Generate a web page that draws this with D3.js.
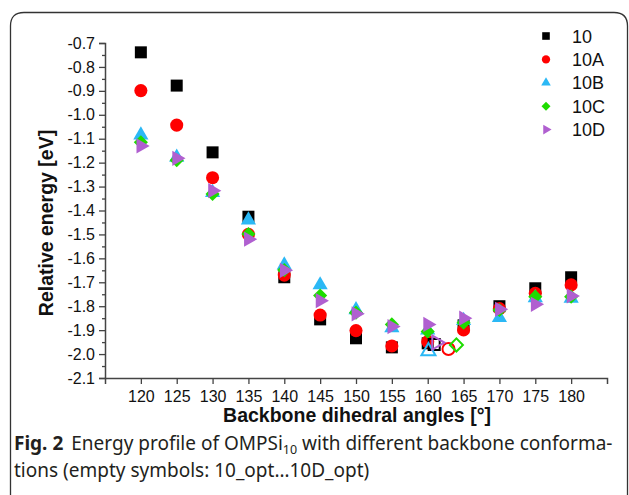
<!DOCTYPE html>
<html>
<head>
<meta charset="utf-8">
<script src="https://cdn.jsdelivr.net/npm/d3@7"></script>
<style>
  body { margin: 0; background: #fff; }
  svg { display: block; }
</style>
</head>
<body>
<svg id="chart" width="629" height="495"></svg>
<script>
// dihedral angles (deg) and relative energies (eV) per conformer
const angles = [120, 125, 130, 135, 140, 145, 150, 155, 160, 165, 170, 175, 180];
const e10  = [-0.739, -0.878, -1.157, -1.426, -1.679, -1.855, -1.934, -1.972, -1.955, -1.88, -1.80, -1.725, -1.679];
const e10A = [-0.899, -1.043, -1.263, -1.50, -1.67, -1.837, -1.902, -1.966, -1.948, -1.899, -1.81, -1.746, -1.711];
const e10B = [-1.085, -1.178, -1.325, -1.44, -1.628, -1.711, -1.815, -1.89, -1.90, -1.86, -1.848, -1.765, -1.767];
const e10C = [-1.115, -1.19, -1.331, -1.498, -1.649, -1.755, -1.827, -1.876, -1.906, -1.869, -1.816, -1.76, -1.76];
const e10D = [-1.13, -1.182, -1.317, -1.52, -1.65, -1.777, -1.832, -1.885, -1.876, -1.85, -1.813, -1.792, -1.757];

// optimised structures (empty symbols)
const optAngles = [160.9, 162.9, 160.1, 164.0, 161.2];
const optEnergy = [-1.96, -1.979, -1.988, -1.962, -1.952];

const seriesNames = ["10", "10A", "10B", "10C", "10D"];
const xTicks = [120, 125, 130, 135, 140, 145, 150, 155, 160, 165, 170, 175, 180];
const yTicks = [-2.1, -2.0, -1.9, -1.8, -1.7, -1.6, -1.5, -1.4, -1.3, -1.2, -1.1, -1.0, -0.9, -0.8, -0.7];

const colors = ["#000000", "#ff0000", "#2bb8f5", "#1edc00", "#b05fd0"];
const shapes = [
  { type: d3.symbolSquare, size: 144, rot: 0 },
  { type: d3.symbolCircle, size: 135, rot: 0 },
  { type: d3.symbolTriangle, size: 100, rot: 0 },
  { type: d3.symbolSquare, size: 100, rot: 45 },
  { type: d3.symbolTriangle, size: 100, rot: 90 },
];

const svg = d3.select("#chart");
const x = d3.scaleLinear().domain([115, 185]).range([105, 607]);
const y = d3.scaleLinear().domain([-2.1, -0.7]).range([378, 43]);

// panel frame (bottom runs off the page)
svg.append("path")
  .attr("d", "M10.5,520 V26 Q10.5,12.5 24,12.5 H614 Q627.5,12.5 627.5,26 V520")
  .attr("fill", "none").attr("stroke", "#333").attr("stroke-width", 1.3);

const fmt = (d) => d.toFixed(1).replace("\u2212", "-");
const axisColor = "#444";

// y axis: major + minor ticks
svg.append("g").attr("transform", "translate(105,0)")
  .call(d3.axisLeft(y).tickValues(yTicks).tickSize(6).tickPadding(4).tickFormat(fmt));
svg.append("g").attr("transform", "translate(105,0)")
  .call(d3.axisLeft(y).tickValues(d3.range(14).map((i) => -2.05 + i * 0.1)).tickSize(3).tickFormat(""))
  .call((g) => g.select(".domain").remove());

svg.append("g").attr("transform", "translate(0,378)")
  .call(d3.axisBottom(x).tickValues(xTicks).tickSize(6).tickPadding(7).tickFormat(d3.format("d")));

svg.selectAll(".domain").attr("stroke", axisColor).attr("stroke-width", 1.5);
svg.selectAll(".tick line").attr("stroke", axisColor).attr("stroke-width", 1.3);
svg.selectAll(".tick text")
  .attr("font-family", "Liberation Sans, Arial, sans-serif")
  .attr("font-size", 16).attr("fill", "#111");

// axis titles
svg.append("text")
  .attr("x", 357).attr("y", 422).attr("text-anchor", "middle")
  .attr("font-family", "Liberation Sans, Arial, sans-serif")
  .attr("font-weight", "bold").attr("font-size", 19.5).attr("fill", "#111")
  .text("Backbone dihedral angles [°]");
svg.append("text")
  .attr("transform", "translate(53,223) rotate(-90)").attr("text-anchor", "middle")
  .attr("font-family", "Liberation Sans, Arial, sans-serif")
  .attr("font-weight", "bold").attr("font-size", 19.5).attr("fill", "#111")
  .text("Relative energy [eV]");

// data points
const allSeries = [e10, e10A, e10B, e10C, e10D];
const plot = svg.append("g");
allSeries.forEach((vals, i) => {
  const s = shapes[i];
  plot.append("g").selectAll("path")
    .data(vals.map((v, j) => ({ a: angles[j], v })))
    .join("path")
    .attr("d", d3.symbol().type(s.type).size(s.size))
    .attr("transform", (d) => `translate(${x(d.a)},${y(d.v)}) rotate(${s.rot})`)
    .attr("fill", colors[i]);
});

// empty symbols
plot.append("g").selectAll("path")
  .data(optAngles.map((a, i) => ({ a, v: optEnergy[i], i })))
  .join("path")
  .attr("d", (d) => d3.symbol().type(shapes[d.i].type).size(shapes[d.i].size * 0.85)())
  .attr("transform", (d) => `translate(${x(d.a)},${y(d.v)}) rotate(${shapes[d.i].rot})`)
  .attr("fill", "none")
  .attr("stroke", (d) => colors[d.i])
  .attr("stroke-width", 2);

// legend
const legend = svg.append("g").attr("transform", "translate(546,36)");
seriesNames.forEach((name, i) => {
  const row = legend.append("g").attr("transform", `translate(0,${i * 23.4})`);
  row.append("path")
    .attr("d", d3.symbol().type(shapes[i].type).size(shapes[i].size * 0.4)())
    .attr("transform", `rotate(${shapes[i].rot})`)
    .attr("fill", colors[i]);
  row.append("text")
    .attr("x", 26).attr("y", 6.5)
    .attr("font-family", "Liberation Sans, Arial, sans-serif")
    .attr("font-size", 18).attr("fill", "#111")
    .text(name);
});

// caption
const cap = svg.append("text")
  .attr("x", 14).attr("y", 450)
  .attr("font-family", "Noto Sans, Open Sans, sans-serif")
  .attr("font-size", 19).attr("fill", "#231f20");
cap.append("tspan").attr("font-weight", "bold").text("Fig. 2");
cap.append("tspan").attr("dx", 8).text("Energy profile of OMPSi");
cap.append("tspan").attr("font-size", 12.5).attr("dy", 4).text("10");
cap.append("tspan").attr("dy", -4).text(" with different backbone conforma-");
svg.append("text")
  .attr("x", 14).attr("y", 477)
  .attr("font-family", "Noto Sans, Open Sans, sans-serif")
  .attr("font-size", 19).attr("fill", "#231f20")
  .text("tions (empty symbols: 10_opt…10D_opt)");
</script>
</body>
</html>
